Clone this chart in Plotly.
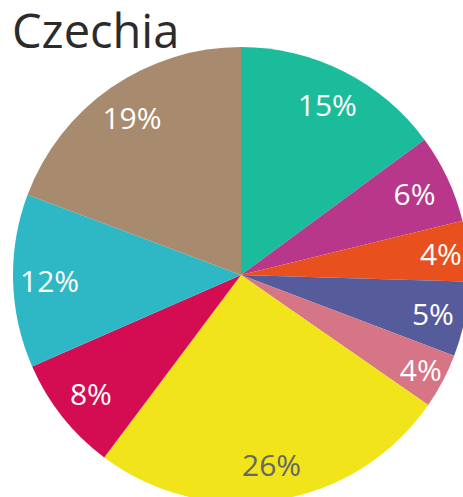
import plotly.graph_objects as go

labels = ["Segment A", "Segment B", "Segment C", "Segment D", "Segment E",
          "Segment F", "Segment G", "Segment H", "Segment I"]
values = [14.9, 6.3, 4.3, 5.3, 3.9, 25.6, 8.2, 12.3, 19.3]
colors = ["#1bbc9c", "#b8378b", "#e8501d", "#565c9b", "#d57585",
          "#f2e41b", "#d40c52", "#2eb8c6", "#a88b6e"]
text_colors = ["#ffffff"] * 5 + ["#666666"] + ["#ffffff"] * 3

W, H = 472, 505
dom = dict(x=[13 / W, 469 / W], y=[(H - 503) / H, (H - 47) / H])

fig = go.Figure()
fig.add_trace(go.Pie(
    labels=labels, values=values, sort=False, direction="clockwise", rotation=0,
    marker=dict(colors=colors, line=dict(width=0)),
    textinfo="none", domain=dom, showlegend=False,
    hoverinfo="label+percent",
))
fig.add_trace(go.Pie(
    labels=labels, values=values, sort=False, direction="clockwise", rotation=0,
    hole=0.68,
    marker=dict(colors=["rgba(0,0,0,0)"] * len(values), line=dict(width=0)),
    texttemplate="%{percent:.0%}",
    textposition="inside",
    insidetextorientation="horizontal",
    insidetextfont=dict(family="Open Sans", size=30, color=text_colors),
    domain=dom, showlegend=False, hoverinfo="skip",
))

fig.add_annotation(
    text="Czechia", xref="paper", yref="paper", x=10 / W, y=1 + 4 / H,
    xanchor="left", yanchor="top", showarrow=False,
    font=dict(family="Open Sans", size=47, color="#2b2b2b"),
)

fig.update_layout(
    width=W, height=H,
    margin=dict(l=0, r=0, t=0, b=0),
    paper_bgcolor="#ffffff",
    plot_bgcolor="#ffffff",
    uniformtext=dict(minsize=30, mode="show"),
)

fig.write_html(
    "out.html",
    config={"displayModeBar": False},
    post_script="document.body.style.margin='0';document.body.style.overflow='hidden';",
)
